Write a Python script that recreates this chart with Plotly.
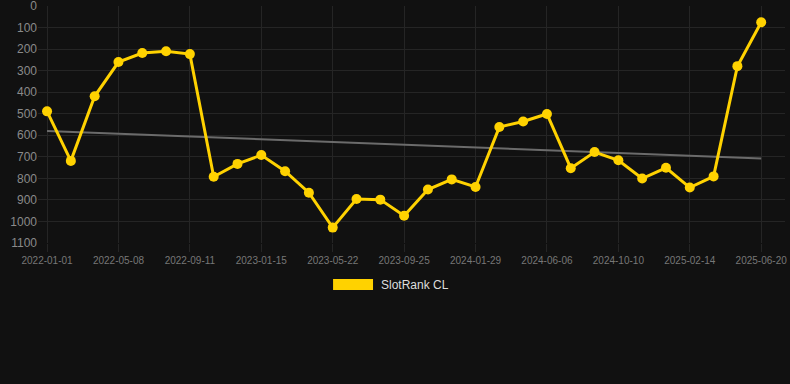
import numpy as np
import plotly.graph_objects as go

dates = ["2022-01-01", "2022-02-12", "2022-03-26", "2022-05-08", "2022-06-19", "2022-07-31",
         "2022-09-11", "2022-10-23", "2022-12-04", "2023-01-15", "2023-02-26", "2023-04-09",
         "2023-05-22", "2023-07-03", "2023-08-14", "2023-09-25", "2023-11-06", "2023-12-18",
         "2024-01-29", "2024-03-11", "2024-04-23", "2024-06-06", "2024-07-18", "2024-08-29",
         "2024-10-10", "2024-11-21", "2025-01-02", "2025-02-14", "2025-03-28", "2025-05-09",
         "2025-06-20"]
rank = [489, 719, 419, 260, 218, 210, 223, 793, 733, 692, 767, 867, 1029, 896, 899, 974,
        852, 805, 840, 562, 536, 501, 753, 678, 716, 801, 751, 843, 791, 279, 75]
tick_labels = ["2022-01-01", "2022-05-08", "2022-09-11", "2023-01-15", "2023-05-22",
               "2023-09-25", "2024-01-29", "2024-06-06", "2024-10-10", "2025-02-14", "2025-06-20"]
y_ticks = list(range(0, 1101, 100))
series_name = "SlotRank CL"

idx = np.arange(len(rank))
slope, intercept = np.polyfit(idx, rank, 1)
trend = slope * idx + intercept

BG = "#111111"
GOLD = "#FFD200"
GRID = "#252525"

fig = go.Figure()
fig.add_trace(go.Scatter(x=dates, y=trend, mode="lines",
                         line=dict(color="#6b6b6b", width=2), hoverinfo="skip",
                         showlegend=False))
fig.add_trace(go.Scatter(x=dates, y=rank, mode="lines+markers", name=series_name,
                         line=dict(color=GOLD, width=3),
                         marker=dict(color=GOLD, size=10),
                         cliponaxis=False, showlegend=False))

fig.update_layout(
    width=790, height=384, autosize=False,
    paper_bgcolor=BG, plot_bgcolor=BG,
    margin=dict(l=38, r=5, t=6, b=141),
    font=dict(family="Liberation Sans, Arial, sans-serif"),
    xaxis=dict(type="category", range=[-0.38, 31.0], automargin=False,
               tickmode="array", tickvals=tick_labels, ticktext=tick_labels,
               showgrid=True, gridcolor=GRID, gridwidth=1,
               ticks="outside", ticklen=8, tickcolor=GRID,
               tickfont=dict(size=10, color="#777777"),
               ticklabeloverflow="allow",
               showline=False, zeroline=False),
    yaxis=dict(range=[1100.5, -0.5], automargin=False,
               tickmode="array", tickvals=y_ticks,
               showgrid=True, gridcolor=GRID, gridwidth=1,
               tickfont=dict(size=12, color="#8a8a8a"),
               ticklabeloverflow="allow",
               ticks="", showline=False, zeroline=False),
    showlegend=False,
)

# legend drawn like the reference (filled box + label), centred below the plot
fig.add_shape(type="rect", xref="paper", yref="paper",
              x0=0.395, x1=0.4485, y0=-0.152, y1=-0.198,
              fillcolor=GOLD, line=dict(width=0))
fig.add_annotation(xref="paper", yref="paper", x=0.4565, y=-0.176,
                   xanchor="left", yanchor="middle", showarrow=False,
                   text=series_name, font=dict(size=12, color="#dddddd"))

fig.write_html("out.html", config={"displayModeBar": False},
               post_script="document.body.style.margin='0';"
                           "document.body.style.background='#111111';")
